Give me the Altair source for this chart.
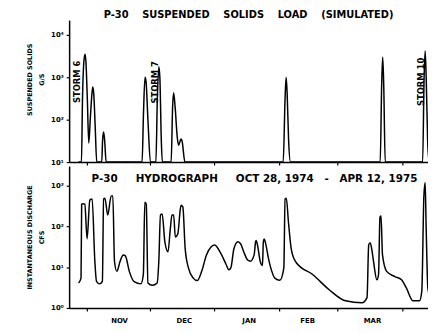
import altair as alt
import pandas as pd

# ---------------- data ----------------
RECORD_START = pd.Timestamp("1974-10-28")  # day 0 of the record

# Suspended solids load (simulated), g/s  -- days after Oct 28, 1974
ss_day = [0.0, 1.4, 1.9, 2.6, 3.1, 3.5, 4.2, 4.9, 5.6, 6.4, 6.8, 7.3, 8.0, 8.7,
          11.1, 11.5, 12.0, 12.5, 13.2,
          30.4, 31.1, 31.8, 32.3, 33.2, 34.4,
          37.0, 37.7, 38.4, 38.9, 39.6, 40.1,
          44.3, 45.0, 45.5, 46.2, 47.2, 47.9, 49.0, 49.5, 50.9,
          97.9, 98.8, 99.3, 99.8, 100.5, 101.4,
          144.3, 145.0, 145.5, 146.0, 146.7,
          164.6, 165.3, 165.8, 166.3, 167.0, 167.7, 168.1]
ss_load = [10, 10, 320, 2500, 3500, 2500, 320, 28, 100, 400, 590, 400, 63, 10,
           10, 32, 51, 32, 10,
           10, 160, 1000, 790, 100, 10,
           10, 320, 1780, 1000, 32, 10,
           10, 200, 430, 200, 40, 25, 35, 32, 10,
           10, 320, 1000, 400, 32, 10,
           10, 630, 3000, 630, 10,
           10, 1000, 4200, 1000, 32, 10, 10]

# Instantaneous discharge, cfs -- days after Oct 28, 1974
q_day = [0.0, 1.2, 1.5, 2.3, 3.0, 4.1, 5.4, 6.5, 7.8, 8.6, 10.1, 11.4, 12.0, 12.6,
         14.0, 15.6, 16.4, 17.2, 18.3, 19.9, 21.4, 22.4, 24.3, 26.6, 29.8, 31.0,
         31.7, 32.4, 33.2, 35.3, 37.6, 38.4, 39.2, 40.0, 41.3, 42.8, 43.9, 44.7,
         45.5, 46.3, 47.5, 48.7, 49.1, 49.9, 51.0, 52.6, 54.9, 56.8, 58.9, 61.2,
         63.6, 65.1, 68.0, 70.5, 71.9, 72.9, 74.3, 76.2, 77.6, 79.0, 80.9, 82.2,
         84.0, 84.7, 85.0, 85.6, 86.9, 88.0, 88.4, 88.8, 89.4, 90.8, 92.2, 93.9,
         96.3, 98.2, 98.8, 99.4, 100.4, 101.8, 104.1, 112.0, 119.9, 127.7, 135.6,
         138.0, 138.8, 139.5, 140.3, 141.1, 142.7, 143.5, 144.2, 144.7, 145.4,
         147.4, 151.3, 154.5, 156.8, 160.0, 163.1, 164.2, 165.2, 165.8, 166.3,
         167.1, 168.1]
q_cfs = [4.1, 5.4, 350, 360, 350, 50, 440, 470, 14, 4.5, 3.9, 4.5, 470, 490,
         190, 560, 560, 14, 7.9, 14, 20, 19, 7.9, 4.4, 3.9, 6.6,
         390, 350, 4.1, 3.6, 4.1, 14, 190, 200, 42, 24, 87, 190,
         190, 55, 66, 270, 330, 300, 29, 9.5, 5.4, 4.7, 7.9, 20,
         32, 35, 22, 12, 8.7, 9.8, 28, 42, 37, 24, 15, 14,
         20, 42, 45, 35, 14, 11, 42, 49, 40, 17, 8.7, 5.4,
         4.8, 9.5, 470, 490, 130, 27, 13, 6.6, 2.8, 1.5, 1.35,
         1.8, 35, 40, 27, 14, 4.9, 6.6, 170, 180, 20,
         7.9, 5.9, 4.9, 3.1, 1.5, 1.5, 2.6, 560, 1200, 87,
         3.1, 1.9]

storm_names = ["STORM 6", "STORM 7", "STORM 10"]
storm_day = [-0.5, 36.5, 164.0]
storm_load = [780, 760, 780]

SP = "\u00a0"
title_top = "P-30" + SP * 4 + "SUSPENDED" + SP * 4 + "SOLIDS" + SP * 4 + "LOAD" + SP * 4 + "(SIMULATED)"
title_bottom = ("P-30" + SP * 5 + "HYDROGRAPH" + SP * 5 + "OCT 28, 1974" + SP * 3 + "-"
                + SP * 3 + "APR 12, 1975")

ss_ticks = [10, 100, 1000, 10000]
q_ticks = [1, 10, 100, 1000]

# ---------------- tables ----------------
assert len(ss_day) == len(ss_load)
assert len(q_day) == len(q_cfs)
ss_df = pd.DataFrame({"date": RECORD_START + pd.to_timedelta(ss_day, unit="D"), "load": ss_load})
q_df = pd.DataFrame({"date": RECORD_START + pd.to_timedelta(q_day, unit="D"), "cfs": q_cfs})
storm_df = pd.DataFrame({"date": RECORD_START + pd.to_timedelta(storm_day, unit="D"),
                         "load": storm_load, "name": storm_names})
title_df = pd.DataFrame({"label": [title_bottom]})

FONT = "DejaVu Sans"
x_domain = [alt.DateTime(year=1974, month=10, date=23, hours=12),
            alt.DateTime(year=1975, month=4, date=13, hours=4)]
month_vals = [alt.DateTime(year=1974, month=11, date=1), alt.DateTime(year=1974, month=12, date=1),
              alt.DateTime(year=1975, month=1, date=1), alt.DateTime(year=1975, month=2, date=1),
              alt.DateTime(year=1975, month=3, date=1), alt.DateTime(year=1975, month=4, date=1)]
sup_expr = "'10' + ['\u2070','\u00b9','\u00b2','\u00b3','\u2074'][round(log(datum.value)/LN10)]"
# each month name is written just left of the tick that closes that month
month_label_expr = ("month(datum.value) == 10 ? '' : "
                    "upper(timeFormat(datetime(year(datum.value), month(datum.value), 0), '%b'))")

W, H = 364, 144

common_axis = dict(domainColor="black", domainWidth=1.5, tickColor="black", tickWidth=1.2,
                   labelFont=FONT, labelFontWeight="bold", labelColor="black",
                   titleFont=FONT, titleFontWeight="bold", titleColor="black", grid=False)

y_axis_common = dict(tickSize=3, labelPadding=3, labelFontSize=7, titleFontSize=6.5,
                     titlePadding=8, minExtent=17, maxExtent=17, titleLineHeight=12,
                     labelExpr=sup_expr, **common_axis)

x_scale = alt.Scale(domain=x_domain)

top_x = alt.X("date:T", scale=x_scale,
              axis=alt.Axis(values=month_vals, labels=False, tickSize=3, title=None, **common_axis))
bot_x = alt.X("date:T", scale=x_scale,
              axis=alt.Axis(values=month_vals, tickSize=3, labelPadding=6, labelFontSize=7,
                            labelOffset=-31, labelOverlap=False, labelFlush=False, title=None,
                            labelExpr=month_label_expr, **common_axis))

top_y = alt.Y("load:Q", scale=alt.Scale(type="log", domain=[10, 22400], nice=False),
              axis=alt.Axis(values=ss_ticks, title=["SUSPENDED SOLIDS", "G/S"], titleY=60,
                            **y_axis_common))
bot_y = alt.Y("cfs:Q", scale=alt.Scale(type="log", domain=[1, 3020], nice=False),
              axis=alt.Axis(values=q_ticks, title=["INSTANTANEOUS DISCHARGE", "CFS"], **y_axis_common))

top_line = alt.Chart(ss_df).mark_line(color="black", strokeWidth=1.5, clip=True,
                                      interpolate="monotone").encode(x=top_x, y=top_y)
storm_text = alt.Chart(storm_df).mark_text(angle=270, font=FONT, fontSize=8.5, fontWeight="bold",
                                           color="black", align="center", baseline="middle").encode(
    x="date:T", y="load:Q", text="name:N")

top = alt.layer(top_line, storm_text).properties(
    width=W, height=H,
    title=alt.TitleParams(text=title_top, font=FONT, fontSize=10, fontWeight="bold",
                          color="black", anchor="middle", frame="group", offset=0))

bot_line = alt.Chart(q_df).mark_line(color="black", strokeWidth=1.5, clip=True,
                                     interpolate="monotone").encode(x=bot_x, y=bot_y)
bot_title = alt.Chart(title_df).mark_text(font=FONT, fontSize=10.5, fontWeight="bold", color="black",
                                          align="center", baseline="middle").encode(
    x=alt.value(188), y=alt.value(13), text="label:N")

bottom = alt.layer(bot_line, bot_title).properties(width=W, height=H)

chart = alt.vconcat(top, bottom, spacing=0).configure_view(stroke=None).properties(
    padding={"left": 19, "top": 0, "right": 0, "bottom": 0}, background="white")

chart.save("out.html", embed_options={"renderer": "svg", "actions": False})
